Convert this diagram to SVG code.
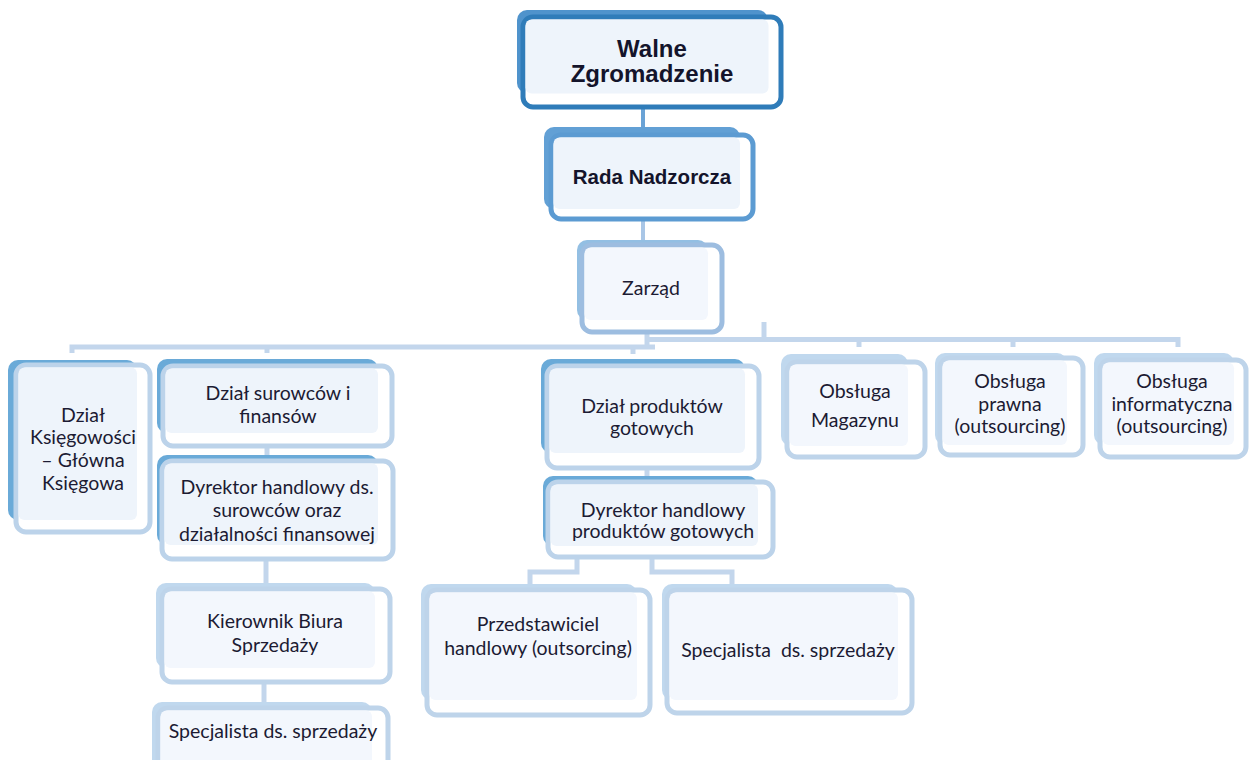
<svg xmlns="http://www.w3.org/2000/svg" width="1249" height="760" viewBox="0 0 1249 760">
<style>
.bg{fill:#ffffff}
.fr{fill:#ffffff;stroke-width:5}
.in{fill:#eef4fb}
.in2{fill:#f3f7fd}
.t{font-family:Lato,"Open Sans","Liberation Sans",sans-serif;font-size:19.5px;fill:#1c1b33;text-anchor:middle}
.tb{font-family:"Liberation Sans",Arial,sans-serif;font-weight:bold;fill:#14142b;text-anchor:middle}
.cn{fill:none;stroke:#c3d6ec;stroke-width:5}
.d1{fill:#4f93cc}.s1{stroke:#2f7cb9}
.d2{fill:#62a0d5}.s2{stroke:#5c9bd2}
.d3{fill:#93bfe3}.s3{stroke:#9dbde0}
.d4{fill:#6aaad8}.s4{stroke:#bcd3ea}
.d5{fill:#c0d8ee}.s5{stroke:#bed4ea}
</style>
<rect class="bg" x="0" y="0" width="1249" height="760"/>
<g id="connectors">
<line x1="643" y1="108" x2="643" y2="128" stroke="#6aa3d6" stroke-width="4"/>
<line x1="643" y1="219" x2="643" y2="240" stroke="#a9c6e6" stroke-width="4"/>
<path class="cn" d="M647 332 V347"/>
<path class="cn" d="M72 353 V347 H655"/>
<path class="cn" d="M645 339.5 H1178 V347"/>
<path class="cn" d="M267 345 V353"/>
<path class="cn" d="M633 345 V354"/>
<path class="cn" d="M859 337 V347"/>
<path class="cn" d="M1013 337 V347"/>
<path class="cn" d="M764 322 V340"/>
<path class="cn" d="M267 446 V458"/>
<path class="cn" d="M266 559 V585"/>
<path class="cn" d="M264 682 V704"/>
<path class="cn" d="M647 468 V478"/>
<path class="cn" d="M577 557 V572 H530 V586"/>
<path class="cn" d="M652 557 V572 H732 V586"/>
</g>
<g id="walne">
<rect class="d1" x="517" y="10" width="251" height="83" rx="10"/>
<rect class="fr s1" x="523" y="17" width="258" height="90" rx="10"/>
<rect class="in" x="525.5" y="19.5" width="243" height="74" rx="6"/>
<text class="tb" font-size="24" x="652" y="57">Walne</text>
<text class="tb" font-size="24" x="652" y="82">Zgromadzenie</text>
</g>
<g id="rada">
<rect class="d2" x="544" y="127" width="196" height="82" rx="10"/>
<rect class="fr s2" x="551" y="135" width="202" height="84" rx="10"/>
<rect class="in" x="553.5" y="137.5" width="186.5" height="71.5" rx="6"/>
<text class="tb" font-size="20.5" x="652" y="184">Rada Nadzorcza</text>
</g>
<g id="zarzad">
<rect class="d3" x="577" y="240" width="131" height="80" rx="10"/>
<rect class="fr s3" x="582" y="245" width="140" height="87" rx="10"/>
<rect class="in2" x="584.5" y="247.5" width="123.5" height="72.5" rx="6"/>
<text class="t" x="651" y="295">Zarząd</text>
</g>
<g id="ksiegowosc">
<rect class="d4" x="8" y="360" width="129" height="160" rx="10"/>
<rect class="fr s4" x="16" y="365" width="134" height="167" rx="10"/>
<rect class="in" x="18.5" y="367.5" width="118.5" height="152.5" rx="6"/>
<text class="t" x="83" y="422">Dział</text>
<text class="t" x="83" y="444">Księgowości</text>
<text class="t" x="83" y="467">– Główna</text>
<text class="t" x="83" y="490">Księgowa</text>
</g>
<g id="surowce">
<rect class="d4" x="157" y="359" width="221" height="74" rx="10"/>
<rect class="fr s4" x="163" y="366" width="229" height="80" rx="10"/>
<rect class="in" x="165.5" y="368.5" width="212.5" height="64.5" rx="6"/>
<text class="t" x="278" y="400">Dział surowców i</text>
<text class="t" x="278" y="423">finansów</text>
</g>
<g id="dyrektor-surowce">
<rect class="d4" x="157" y="455" width="221" height="90" rx="10"/>
<rect class="fr s4" x="162" y="461" width="231" height="98" rx="10"/>
<rect class="in" x="164.5" y="463.5" width="213.5" height="81.5" rx="6"/>
<text class="t" x="277" y="494">Dyrektor handlowy ds.</text>
<text class="t" x="277" y="517">surowców oraz</text>
<text class="t" x="277" y="541">działalności finansowej</text>
</g>
<g id="kierownik">
<rect class="d5" x="156" y="583" width="219" height="85" rx="10"/>
<rect class="fr s5" x="162" y="589" width="228" height="93" rx="10"/>
<rect class="in2" x="164.5" y="591.5" width="210.5" height="76.5" rx="6"/>
<text class="t" x="275" y="628">Kierownik Biura</text>
<text class="t" x="275" y="652">Sprzedaży</text>
</g>
<g id="specjalista-1">
<rect class="d5" x="152" y="702" width="220" height="70" rx="10"/>
<rect class="fr s5" x="158" y="708" width="230" height="70" rx="10"/>
<rect class="in2" x="160.5" y="710.5" width="211.5" height="60" rx="6"/>
<text class="t" x="273" y="738">Specjalista ds. sprzedaży</text>
</g>
<g id="produkty">
<rect class="d4" x="541" y="359" width="204" height="94" rx="10"/>
<rect class="fr s4" x="547" y="366" width="212" height="102" rx="10"/>
<rect class="in" x="549.5" y="368.5" width="195.5" height="84.5" rx="6"/>
<text class="t" x="652" y="413">Dział produktów</text>
<text class="t" x="652" y="435">gotowych</text>
</g>
<g id="dyrektor-produkty">
<rect class="d4" x="543" y="476" width="215" height="70" rx="10"/>
<rect class="fr s4" x="548" y="482" width="225" height="75" rx="10"/>
<rect class="in" x="550.5" y="484.5" width="207.5" height="61.5" rx="6"/>
<text class="t" x="663" y="517">Dyrektor handlowy</text>
<text class="t" x="663" y="538">produktów gotowych</text>
</g>
<g id="przedstawiciel">
<rect class="d5" x="421" y="584" width="216" height="116" rx="10"/>
<rect class="fr s5" x="427" y="590" width="223" height="125" rx="10"/>
<rect class="in2" x="429.5" y="592.5" width="207.5" height="107.5" rx="6"/>
<text class="t" x="538" y="631">Przedstawiciel</text>
<text class="t" x="538" y="655">handlowy (outsorcing)</text>
</g>
<g id="specjalista-2">
<rect class="d5" x="662" y="584" width="236" height="116" rx="10"/>
<rect class="fr s5" x="667" y="590" width="245" height="123" rx="10"/>
<rect class="in2" x="669.5" y="592.5" width="228.5" height="107.5" rx="6"/>
<text class="t" x="788" y="657" xml:space="preserve">Specjalista  ds. sprzedaży</text>
</g>
<g id="magazyn">
<rect class="d5" x="781" y="354" width="127" height="92" rx="10"/>
<rect class="fr s5" x="787" y="362" width="138" height="95" rx="10"/>
<rect class="in2" x="789.5" y="364.5" width="118.5" height="81.5" rx="6"/>
<text class="t" x="855" y="398">Obsługa</text>
<text class="t" x="855" y="427">Magazynu</text>
</g>
<g id="prawna">
<rect class="d5" x="935" y="353" width="132" height="92" rx="10"/>
<rect class="fr s5" x="940" y="358" width="143" height="97" rx="10"/>
<rect class="in2" x="942.5" y="360.5" width="124.5" height="84.5" rx="6"/>
<text class="t" x="1010" y="388">Obsługa</text>
<text class="t" x="1010" y="411">prawna</text>
<text class="t" x="1010" y="433">(outsourcing)</text>
</g>
<g id="informatyczna">
<rect class="d5" x="1094" y="353" width="140" height="92" rx="10"/>
<rect class="fr s5" x="1100" y="360" width="146" height="97" rx="10"/>
<rect class="in2" x="1102.5" y="362.5" width="131.5" height="82.5" rx="6"/>
<text class="t" x="1172" y="388">Obsługa</text>
<text class="t" x="1172" y="411">informatyczna</text>
<text class="t" x="1172" y="433">(outsourcing)</text>
</g>
</svg>
